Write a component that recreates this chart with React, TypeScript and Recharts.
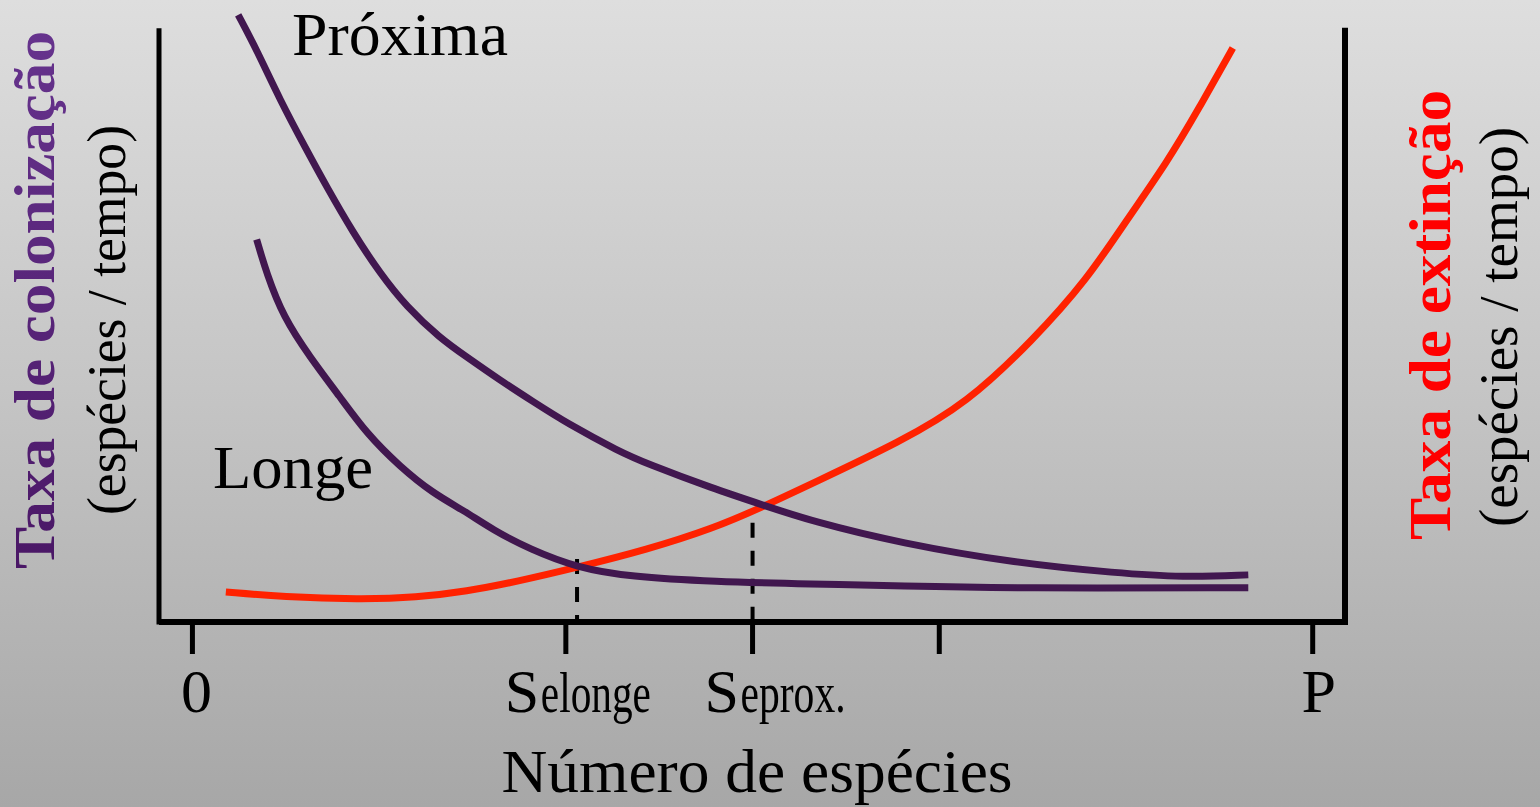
import React from 'react';
import { LineChart, Line, XAxis, YAxis, ReferenceLine } from 'recharts';

// x = number of species (0 .. P = 6), y = rate (0 .. 100)
const xMin = -0.179;
const xMax = 6.173;
const axisTop = 96.6;

const tickValues = [0, 2, 3, 4, 6];
const tickMain = ['0', 'S', 'S', '', 'P'];
const tickSub = ['', 'elonge', 'eprox.', '', ''];

// colonisation, near island
const proxima = [
  [0.245, 99.2], [0.344, 93.5], [0.469, 85.3], [0.612, 77.1], [0.719, 71.1],
  [0.861, 63.6], [1.004, 57.0], [1.147, 51.5], [1.325, 46.4], [1.469, 43.3],
  [1.647, 39.5], [1.825, 36.0], [2.004, 32.5], [2.29, 27.8], [2.433, 25.9],
  [2.789, 21.8], [3.057, 19.1], [3.325, 16.4], [3.789, 12.9], [4.415, 9.6],
  [4.95, 8.0], [5.307, 7.3], [5.655, 7.7],
];

// colonisation, far island
const longe = [
  [0.344, 62.5], [0.397, 57.0], [0.486, 49.9], [0.629, 43.3], [0.79, 36.8],
  [0.933, 30.8], [1.111, 25.4], [1.29, 21.0], [1.45, 18.3], [1.611, 15.0],
  [1.808, 11.9], [2.058, 8.9], [2.343, 7.4], [2.79, 6.6], [3.325, 6.2],
  [3.789, 5.9], [4.415, 5.5], [5.655, 5.6],
];

// extinction
const extincao = [
  [0.179, 4.9], [0.486, 4.1], [0.897, 3.7], [1.201, 4.0], [1.469, 5.0],
  [1.737, 6.6], [2.058, 8.9], [2.433, 11.8], [2.79, 15.3], [3.04, 18.6],
  [3.325, 22.7], [3.789, 29.4], [4.147, 35.7], [4.503, 46.1], [4.79, 55.9],
  [5.004, 65.7], [5.218, 75.0], [5.396, 84.2], [5.572, 93.8],
];

// equilibrium points and the height of their dashed guides
const equilibriumX = [2.06, 3.0];
const equilibriumTop = [10.3, 16.2];

const toRows = (pts: number[][]) => pts.map(([x, y]) => ({ x, y }));

const SERIF = '"Liberation Serif", "Times New Roman", serif';
const PURPLE = '#41174f';
const RED = '#ff2200';

// label placement relative to each tick
const labelShift: Record<number, { dx: number; subLen?: number }> = {
  0: { dx: 4 },
  2: { dx: -61, subLen: 110 },
  3: { dx: -48, subLen: 105 },
  6: { dx: 6 },
};

function SpeciesTick(props: any) {
  const { x, y, payload } = props;
  const i = tickValues.indexOf(payload.value);
  const main = tickMain[i];
  const sub = tickSub[i];
  const base = y + 56;
  const shift = labelShift[payload.value] || { dx: 0 };
  if (!main) return null;
  if (!sub) {
    return (
      <text x={x + shift.dx} y={base} textAnchor="middle" fontFamily={SERIF} fontSize={62} fill="#000">
        {main}
      </text>
    );
  }
  const start = x + shift.dx;
  return (
    <g>
      <text x={start} y={base} fontFamily={SERIF} fontSize={62} fill="#000">{main}</text>
      <text
        x={start + 36}
        y={base}
        fontFamily={SERIF}
        fontSize={58}
        fill="#000"
        textLength={shift.subLen}
        lengthAdjust="spacingAndGlyphs"
      >
        {sub}
      </text>
    </g>
  );
}

export default function App() {
  return (
    <div
      style={{
        position: 'absolute',
        left: 0,
        top: 0,
        width: 1540,
        height: 807,
        background: 'linear-gradient(180deg, #dedede 0%, #c4c4c4 50%, #a7a7a7 100%)',
        fontFamily: SERIF,
      }}
    >
      <LineChart width={1540} height={807} margin={{ top: 10, right: 195, bottom: 125, left: 159 }}>
        <XAxis
          type="number"
          dataKey="x"
          domain={[xMin, xMax]}
          allowDataOverflow
          ticks={tickValues}
          interval={0}
          height={60}
          tickSize={32}
          axisLine={{ stroke: '#000', strokeWidth: 6 }}
          tickLine={{ stroke: '#000', strokeWidth: 5 }}
          tick={<SpeciesTick />}
        />
        <YAxis type="number" dataKey="y" domain={[0, 100]} hide />
        <ReferenceLine
          segment={[{ x: xMin, y: 0 }, { x: xMin, y: axisTop }]}
          stroke="#000"
          strokeWidth={5}
          strokeLinecap="square"
        />
        <ReferenceLine
          segment={[{ x: xMax, y: 0 }, { x: xMax, y: axisTop }]}
          stroke="#000"
          strokeWidth={6}
          strokeLinecap="square"
        />
        {equilibriumX.map((ex, i) => (
          <ReferenceLine
            key={ex}
            segment={[{ x: ex, y: equilibriumTop[i] }, { x: ex, y: 0 }]}
            stroke="#000"
            strokeWidth={4}
            strokeDasharray="15 13"
          />
        ))}
        <Line data={toRows(extincao)} dataKey="y" type="basis" stroke={RED} strokeWidth={7} dot={false} isAnimationActive={false} />
        <Line data={toRows(longe)} dataKey="y" type="basis" stroke={PURPLE} strokeWidth={7} dot={false} isAnimationActive={false} />
        <Line data={toRows(proxima)} dataKey="y" type="basis" stroke={PURPLE} strokeWidth={7} dot={false} isAnimationActive={false} />
      </LineChart>

      <svg width={1540} height={807} style={{ position: 'absolute', left: 0, top: 0, pointerEvents: 'none' }}>
        <defs>
          <linearGradient id="colonGrad" x1="0" y1="0" x2="1" y2="0">
            <stop offset="0%" stopColor="#4a1766" />
            <stop offset="100%" stopColor="#66338d" />
          </linearGradient>
        </defs>
        <text x={292} y={55} fontFamily={SERIF} fontSize={62} fill="#000" textLength={216} lengthAdjust="spacingAndGlyphs">
          Próxima
        </text>
        <text x={213} y={488} fontFamily={SERIF} fontSize={62} fill="#000" textLength={160} lengthAdjust="spacingAndGlyphs">
          Longe
        </text>
        <text x={757} y={792} textAnchor="middle" fontFamily={SERIF} fontSize={62} fill="#000" textLength={511} lengthAdjust="spacingAndGlyphs">
          Número de espécies
        </text>
        <text
          transform="translate(54,300) rotate(-90)"
          textAnchor="middle"
          fontFamily={SERIF}
          fontWeight="bold"
          fontSize={57}
          fill="url(#colonGrad)"
          textLength={538}
          lengthAdjust="spacingAndGlyphs"
        >
          Taxa de colonização
        </text>
        <text
          transform="translate(125,320) rotate(-90)"
          textAnchor="middle"
          fontFamily={SERIF}
          fontSize={54}
          fill="#000"
          textLength={390}
          lengthAdjust="spacingAndGlyphs"
        >
          (espécies / tempo)
        </text>
        <text
          transform="translate(1450,315) rotate(-90)"
          textAnchor="middle"
          fontFamily={SERIF}
          fontWeight="bold"
          fontSize={60}
          fill="#ff0000"
          textLength={450}
          lengthAdjust="spacingAndGlyphs"
        >
          Taxa de extinção
        </text>
        <text
          transform="translate(1517,327) rotate(-90)"
          textAnchor="middle"
          fontFamily={SERIF}
          fontSize={54}
          fill="#000"
          textLength={400}
          lengthAdjust="spacingAndGlyphs"
        >
          (espécies / tempo)
        </text>
      </svg>
    </div>
  );
}
